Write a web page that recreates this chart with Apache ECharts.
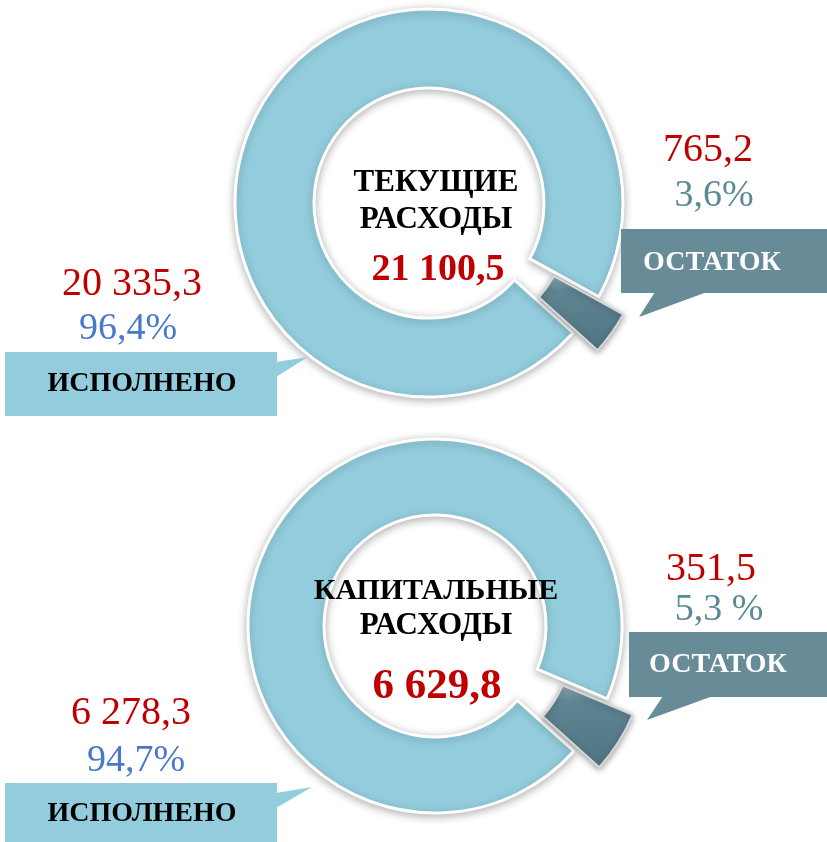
<!DOCTYPE html>
<html>
<head>
<meta charset="utf-8">
<script src="https://cdn.jsdelivr.net/npm/echarts@6/dist/echarts.min.js"></script>
<style>
  html, body { margin: 0; padding: 0; background: #fff; }
  #chart { width: 827px; height: 842px; }
</style>
</head>
<body>
<div id="chart"></div>
<script>
// data
var categories = ['ИСПОЛНЕНО', 'ОСТАТОК'];
var currentValues = [20335.3, 765.2];
var capitalValues = [6278.3, 351.5];
var currentPct = ['96,4%', '3,6%'];
var capitalPct = ['94,7%', '5,3 %'];
var currentTitle = ['ТЕКУЩИЕ', 'РАСХОДЫ'];
var capitalTitle = ['КАПИТАЛЬНЫЕ', 'РАСХОДЫ'];

function fmt(v) {
    var s = v.toFixed(1).split('.');
    var intPart = s[0].replace(/\B(?=(\d{3})+(?!\d))/g, ' ');
    return intPart + ',' + s[1];
}
function sum(a) { return a.reduce(function (p, c) { return p + c; }, 0); }

var SERIF = '"Liberation Serif", "Times New Roman", serif';
var LIGHT = '#93cddd';
var DARK = '#678b97';
var RED = '#c00000';

var restStyle = {
    color: new echarts.graphic.LinearGradient(0, 0, 0, 1, [
        { offset: 0, color: '#94b3bd' },
        { offset: 0.2, color: '#5f8592' },
        { offset: 1, color: '#4f7582' }
    ]),
    borderColor: '#d8d8d8',
    borderWidth: 2,
    shadowBlur: 6,
    shadowColor: 'rgba(0,0,0,0.35)',
    shadowOffsetY: 2
};

function pieSeries(values, center, radius) {
    return {
        type: 'pie',
        center: center,
        radius: radius,
        startAngle: 318,
        clockwise: true,
        selectedMode: 'single',
        selectedOffset: 30,
        label: { show: false },
        labelLine: { show: false },
        emphasis: { disabled: true },
        itemStyle: {
            borderColor: '#fff',
            borderWidth: 3,
            shadowBlur: 8,
            shadowColor: 'rgba(0,0,0,0.28)',
            shadowOffsetY: 2
        },
        data: [
            { name: categories[0], value: values[0], itemStyle: { color: LIGHT } },
            {
                name: categories[1], value: values[1], selected: true,
                itemStyle: restStyle,
                select: { itemStyle: restStyle }
            }
        ]
    };
}

function txt(text, x, y, size, color, bold) {
    return {
        type: 'text', z: 100,
        style: {
            text: text, x: x, y: y,
            textAlign: 'center', textVerticalAlign: 'middle',
            fontFamily: SERIF, fontSize: size,
            fontWeight: bold ? 'bold' : 'normal',
            fill: color
        }
    };
}
function box(x1, y1, x2, y2, tip, color) {
    return [
        { type: 'rect', z: 90, shape: { x: x1, y: y1, width: x2 - x1, height: y2 - y1 }, style: { fill: color } },
        { type: 'polygon', z: 90, shape: { points: tip }, style: { fill: color } }
    ];
}

var graphics = [];
// top chart
graphics.push(txt(currentTitle[0], 436, 183, 31, '#000', true));
graphics.push(txt(currentTitle[1], 436, 220, 31, '#000', true));
graphics.push(txt(fmt(sum(currentValues)), 438, 270, 38, RED, true));
graphics.push(txt(fmt(currentValues[0]), 132, 284, 40, RED, false));
graphics.push(txt(currentPct[0], 128, 329, 38, '#4a78c8', false));
graphics = graphics.concat(box(5, 352, 277, 416, [[276, 362], [308, 357], [276, 377]], LIGHT));
graphics.push(txt(categories[0], 142, 384, 28, '#000', true));
graphics.push(txt(fmt(currentValues[1]), 708, 150, 40, RED, false));
graphics.push(txt(currentPct[1], 714, 196, 38, '#5b8a96', false));
graphics = graphics.concat(box(621, 229, 827, 293, [[655, 292], [639, 317], [707, 292]], DARK));
graphics.push(txt(categories[1], 712, 263, 28, '#fff', true));
// bottom chart
graphics.push(txt(capitalTitle[0], 436, 591, 30, '#000', true));
graphics.push(txt(capitalTitle[1], 436, 626, 31, '#000', true));
graphics.push(txt(fmt(sum(capitalValues)), 437, 687, 43, RED, true));
graphics.push(txt(fmt(capitalValues[0]), 131, 713, 40, RED, false));
graphics.push(txt(capitalPct[0], 136, 761, 38, '#4a78c8', false));
graphics = graphics.concat(box(5, 783, 277, 842, [[276, 793], [312, 787], [276, 808]], LIGHT));
graphics.push(txt(categories[0], 142, 814, 28, '#000', true));
graphics.push(txt(fmt(capitalValues[1]), 711, 569, 40, RED, false));
graphics.push(txt(capitalPct[1], 719, 610, 38, '#5b8a96', false));
graphics = graphics.concat(box(629, 632, 827, 697, [[663, 696], [647, 720], [713, 696]], DARK));
graphics.push(txt(categories[1], 718, 665, 28, '#fff', true));

var chart = echarts.init(document.getElementById('chart'));
var option = {
    animation: false,
    backgroundColor: '#fff',
    series: [
        pieSeries(currentValues, [429, 203], [115, 194]),
        pieSeries(capitalValues, [435, 626], [111, 187])
    ],
    graphic: graphics
};
chart.setOption(option);
</script>
</body>
</html>
